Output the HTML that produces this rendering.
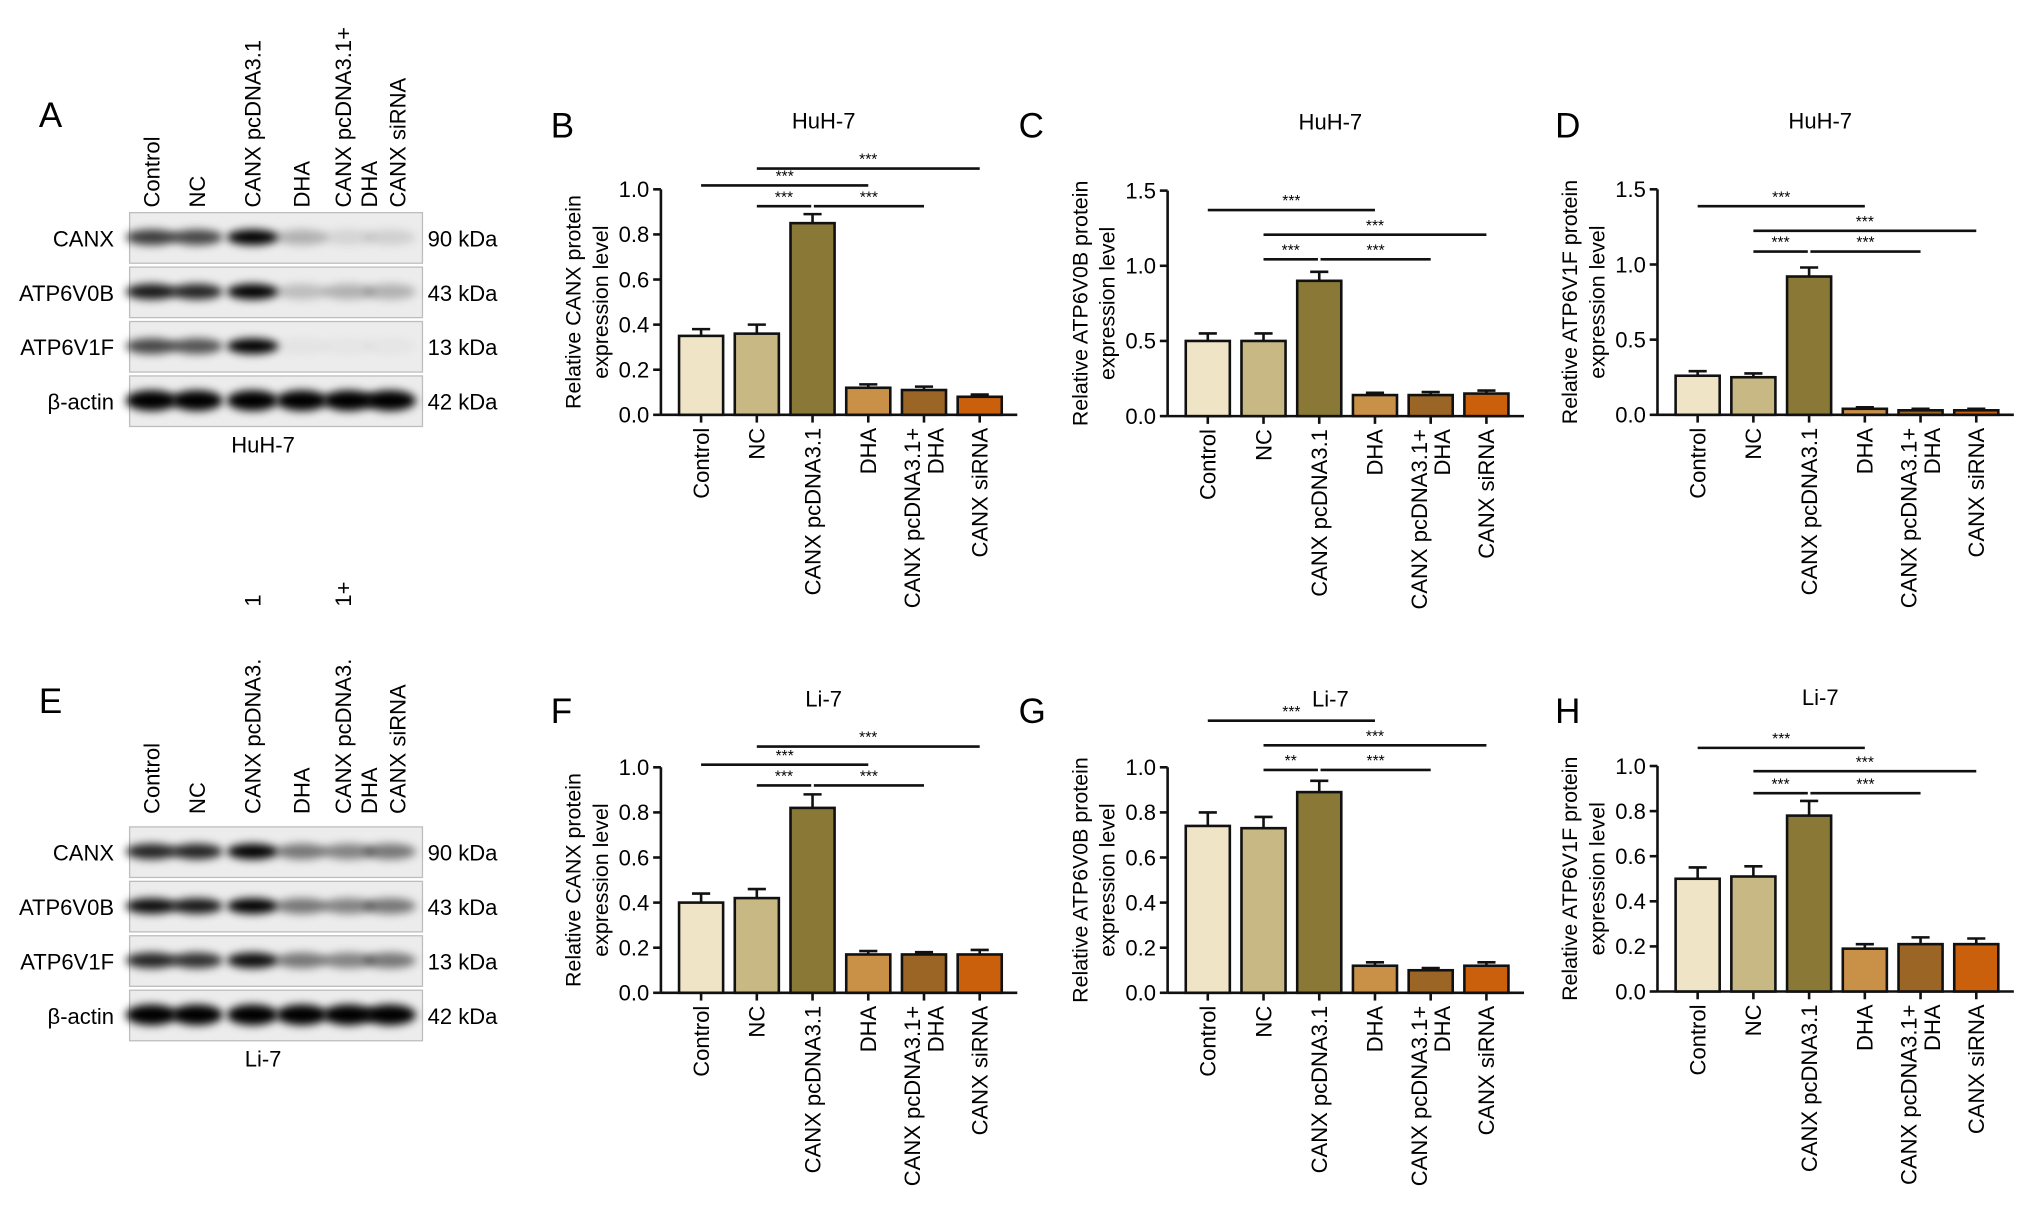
<!DOCTYPE html>
<html><head><meta charset="utf-8"><style>
html,body{margin:0;padding:0;background:#fff;}
svg{display:block;font-family:"Liberation Sans",Arial,sans-serif;}
</style></head><body>
<svg id="fig" width="2032" height="1221" viewBox="0 0 1568 942" xmlns="http://www.w3.org/2000/svg">
<defs>
<filter id="blur" x="-50%" y="-100%" width="200%" height="300%"><feGaussianBlur stdDeviation="3.2"/></filter>
</defs>
</svg>
<script>
const NS='http://www.w3.org/2000/svg';
const svg=document.getElementById('fig');
function el(tag,attrs,parent,text){const e=document.createElementNS(NS,tag);for(const k in attrs)e.setAttribute(k,attrs[k]);if(text!==undefined)e.textContent=text;(parent||svg).appendChild(e);return e;}

const categories=['Control','NC','CANX pcDNA3.1','DHA','CANX pcDNA3.1+|DHA','CANX siRNA'];
const colors=['#efe5c6','#c7b884','#8a7936','#c99048','#9b6525','#ca600b'];
const valsB=[0.35,0.36,0.85,0.12,0.11,0.08]; const errB=[0.03,0.04,0.04,0.015,0.015,0.01];
const valsC=[0.50,0.50,0.90,0.14,0.14,0.15]; const errC=[0.05,0.05,0.06,0.015,0.02,0.02];
const valsD=[0.26,0.25,0.92,0.04,0.03,0.03]; const errD=[0.03,0.025,0.06,0.01,0.01,0.01];
const valsF=[0.40,0.42,0.82,0.17,0.17,0.17]; const errF=[0.04,0.04,0.06,0.015,0.01,0.02];
const valsG=[0.74,0.73,0.89,0.12,0.10,0.12]; const errG=[0.06,0.05,0.05,0.015,0.01,0.015];
const valsH=[0.50,0.51,0.78,0.19,0.21,0.21]; const errH=[0.05,0.045,0.065,0.02,0.03,0.025];
const ticks1=['0.0','0.2','0.4','0.6','0.8','1.0'];
const ticks15=['0.0','0.5','1.0','1.5'];

const panels=[
 {letter:'B',lx:425,ly:106,title:'HuH-7',x0:541,y0:320,vals:valsB,err:errB,max:1.0,ticks:ticks1,ylab:'Relative CANX protein',
  sig:[[1,5,130,'***'],[0,3,143,'***'],[1,2,159,'***'],[2,4,159,'***']]},
 {letter:'C',lx:786,ly:106,title:'HuH-7',x0:932,y0:321,vals:valsC,err:errC,max:1.5,ticks:ticks15,ylab:'Relative ATP6V0B protein',
  sig:[[0,3,162,'***'],[1,5,181,'***'],[1,2,200,'***'],[2,4,200,'***']]},
 {letter:'D',lx:1200,ly:106,title:'HuH-7',x0:1310,y0:320,vals:valsD,err:errD,max:1.5,ticks:ticks15,ylab:'Relative ATP6V1F protein',
  sig:[[0,3,159,'***'],[1,5,178,'***'],[1,2,194,'***'],[2,4,194,'***']]},
 {letter:'F',lx:425,ly:558,title:'Li-7',x0:541,y0:766,vals:valsF,err:errF,max:1.0,ticks:ticks1,ylab:'Relative CANX protein',
  sig:[[1,5,576,'***'],[0,3,590,'***'],[1,2,606,'***'],[2,4,606,'***']]},
 {letter:'G',lx:786,ly:558,title:'Li-7',x0:932,y0:766,vals:valsG,err:errG,max:1.0,ticks:ticks1,ylab:'Relative ATP6V0B protein',
  sig:[[0,3,556,'***'],[1,5,575,'***'],[1,2,594,'**'],[2,4,594,'***']]},
 {letter:'H',lx:1200,ly:558,title:'Li-7',x0:1310,y0:765,vals:valsH,err:errH,max:1.0,ticks:ticks1,ylab:'Relative ATP6V1F protein',
  sig:[[0,3,577,'***'],[1,5,595,'***'],[1,2,612,'***'],[2,4,612,'***']]}
];

panels.forEach(p=>{
  const g=el('g',{});
  
  
  const H=174, step=43, bw=34;
  const ax=p.x0-31;
  const xc=i=>p.x0+i*step;
  const y=v=>p.y0-v/p.max*H;
  const t=el('text',{x:p.lx,y:p.ly,'font-size':27},g,p.letter);
  
  const ti=el('text',{x:xc(2.2),y:p.y0-221,'font-size':17,'text-anchor':'middle'},g,p.title);
  
  const lab=el('text',{transform:`translate(${ax-62},${p.y0-87}) rotate(-90)`,'font-size':16.5,'text-anchor':'middle'},g);
  
  el('tspan',{x:0,y:0},lab,p.ylab);
  el('tspan',{x:0,y:21},lab,'expression level');
  el('line',{x1:ax,y1:p.y0,x2:ax,y2:p.y0-H,stroke:'#111','stroke-width':2},g);
  el('line',{x1:ax,y1:p.y0,x2:xc(5)+29,y2:p.y0,stroke:'#111','stroke-width':2},g);
  p.ticks.forEach((tk,i)=>{
    const v=parseFloat(tk);const yy=y(v);
    el('line',{x1:ax-6,y1:yy,x2:ax,y2:yy,stroke:'#111','stroke-width':2},g);
    const tt=el('text',{x:ax-9,y:yy+6,'font-size':17,'text-anchor':'end'},g,tk);
    
  });
  p.vals.forEach((v,i)=>{
    const cx=xc(i);
    const e=p.err[i];
    el('line',{x1:cx,y1:y(v),x2:cx,y2:y(v+e),stroke:'#111','stroke-width':2},g);
    el('line',{x1:cx-7,y1:y(v+e),x2:cx+7,y2:y(v+e),stroke:'#111','stroke-width':2},g);
    const r=el('rect',{x:cx-bw/2,y:y(v),width:bw,height:p.y0-y(v),fill:colors[i],stroke:'#111','stroke-width':2},g);
    
    
    el('line',{x1:cx,y1:p.y0,x2:cx,y2:p.y0+6,stroke:'#111','stroke-width':2},g);
    const parts=categories[i].split('|');
    parts.forEach((s,k)=>{
      const off=(k-(parts.length-1)/2)*18+6;
      const xl=el('text',{transform:`translate(${cx+off},${p.y0+10}) rotate(-90)`,'font-size':17,'text-anchor':'end'},g,s);
      
    });
  });
  p.sig.forEach(s=>{
    const [a,b,yy,lbl]=s;
    const x1=xc(a)+(a===2?1:0), x2=xc(b)-(b===2?1:0);
    el('line',{x1:x1,y1:yy,x2:x2,y2:yy,stroke:'#111','stroke-width':2},g);
    const st=el('text',{x:(x1+x2)/2,y:yy-3,'font-size':12,'text-anchor':'middle'},g,lbl);
    
  });
});

const lanes=[117,152,195,233,269,301];
const blotRows=['CANX','ATP6V0B','ATP6V1F','β-actin'];
const kda=['90 kDa','43 kDa','13 kDa','42 kDa'];
const intensA=[[0.75,0.7,1,0.25,0.1,0.12],[0.9,0.85,1,0.2,0.25,0.25],[0.7,0.65,1,0.04,0.03,0.03],[1,1,1,1,1,1]];
const intensE=[[0.85,0.85,1,0.5,0.45,0.5],[0.95,0.9,1,0.5,0.45,0.5],[0.85,0.8,0.95,0.5,0.45,0.5],[1,1,1,1,1,1]];
function blot(letter,letterY,top,cell,intens,labels){
  const g=el('g',{});
  
  
  const L=el('text',{x:30,y:letterY,'font-size':27},g,letter);
  
  labels.forEach(l=>{
    const t=el('text',{transform:`translate(${l[0]},${l[1]}) rotate(-90)`,'font-size':17,'text-anchor':'start'},g,l[2]);
    
  });
  blotRows.forEach((r,i)=>{
    const y0=top+i*42;
    el('rect',{x:100,y:y0,width:226,height:39,fill:'#ececec',stroke:'#bdbdbd','stroke-width':1},g);
    lanes.forEach((lx,j)=>{
      const a=intens[i][j];
      if(a>0.02) el('ellipse',{cx:lx,cy:y0+19,rx:20,ry:i===3?8:6,fill:'#000','fill-opacity':a,filter:'url(#blur)'},g);
    });
    const rl=el('text',{x:88,y:y0+26,'font-size':17,'text-anchor':'end'},g,r);
    
    const kl=el('text',{x:330,y:y0+26,'font-size':17},g,kda[i]);
    
  });
  const c=el('text',{x:203,y:top+185,'font-size':17,'text-anchor':'middle'},g,cell);
  
}
blot('A',98,164,'HuH-7',intensA,[[123,160,'Control'],[158,160,'NC'],[201,160,'CANX pcDNA3.1'],[239,160,'DHA'],[271,160,'CANX pcDNA3.1+'],[291,160,'DHA'],[313,160,'CANX siRNA']]);
blot('E',550,638,'Li-7',intensE,[[123,628,'Control'],[158,628,'NC'],[201,628,'CANX pcDNA3.'],[201,468,'1'],[239,628,'DHA'],[271,628,'CANX pcDNA3.'],[271,468,'1+'],[291,628,'DHA'],[313,628,'CANX siRNA']]);
</script>
</body></html>
